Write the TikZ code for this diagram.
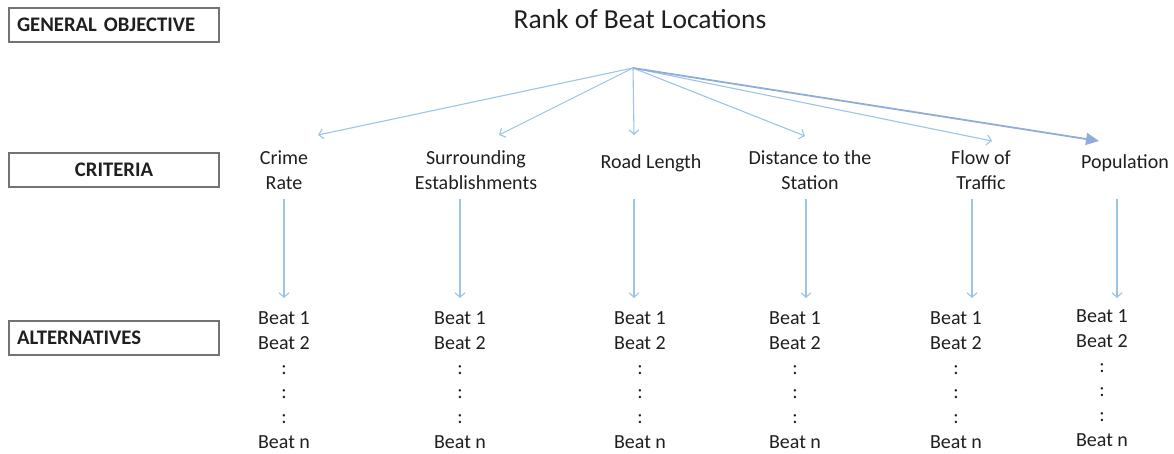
\documentclass[tikz,border=0pt]{standalone}
\usepackage{fontspec}
\setmainfont{Carlito}
\usetikzlibrary{arrows.meta}
\definecolor{linkblue}{RGB}{157,195,230}
\definecolor{popblue}{RGB}{143,172,218}
\tikzset{>={Straight Barb[length=4.5pt,width=10pt]}, every node/.style={inner sep=0pt, text=black!88},
  tierbox/.style={draw=black!55, line width=1.4pt, minimum height=34pt, inner sep=8pt, text width=194pt, font=\fontsize{20.7}{24}\selectfont\bfseries},
  crit/.style={anchor=north, align=center, font=\fontsize{20}{25}\selectfont},
  beats/.style={anchor=north, align=center, font=\fontsize{20}{24.8}\selectfont},
  link/.style={->, draw=linkblue, line width=1.1pt},}

\begin{document}
\begin{tikzpicture}[x=1pt, y=-1pt]
        \useasboundingbox (0,0) rectangle (1174,453);
        % level labels
        \node[tierbox, align=left] (objective) at (114,25) {GENERAL OBJECTIVE};
        \node[tierbox, align=center] (criteria) at (114,170) {CRITERIA};
        \node[tierbox, align=left] (alternatives) at (114,338) {ALTERNATIVES};

        \node[anchor=base, font=\fontsize{27.5}{30}\selectfont] (title) at (640,28) {Rank of Beat Locations};
        \coordinate (goal) at (633,68);

        \node[crit] (crime) at (284,147) {\strut Crime\\Rate};
        \node[crit] (surr) at (476,147) {\strut Surrounding\\Establishments};
        \node[crit] (road) at (651,151) {\strut Road Length};
        \node[crit] (dist) at (810,147) {\strut Distance to the\\Station};
        \node[crit] (flow) at (981,147) {\strut Flow of\\Traffic};
        \node[crit] (pop) at (1125,151) {\strut Population};

        \foreach \n/\x/\y in {crime/318/135, surr/499/135, road/634/135, dist/805/136, flow/992/141}
        {
            \coordinate (\n tip) at (\x,\y);
            \draw[link] (goal) -- (\n tip);
        }
        \coordinate (pop tip) at (1099,141);
        \draw[-{Triangle[length=13pt,width=12pt]}, draw=popblue, fill=popblue, line width=1.8pt] (goal) -- (pop tip);

        \foreach \n/\x in {crime/284, surr/460, road/634, dist/806, flow/972, pop/1117}
        {
            \coordinate (\n top) at (\x,199);
            \coordinate (\n end) at (\x,298);
            \draw[link] (\n top) -- (\n end);
        }

        \foreach \n/\x/\y in {crime/284/307, surr/460/307, road/640/307, dist/795/307, flow/956/307, pop/1102/305}
            \node[beats] (\n beats) at (\x,\y) {\strut Beat 1\\Beat 2\\:\\:\\:\\Beat n};
    \end{tikzpicture}
\end{document}
